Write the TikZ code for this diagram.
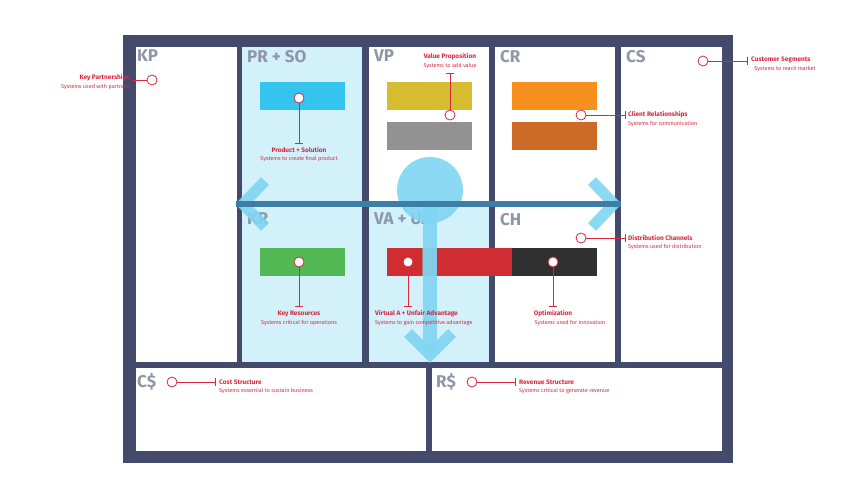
\documentclass[tikz,border=0pt]{standalone}
\usepackage{fontspec}
\setmainfont{Fira Sans}
\definecolor{frame}{HTML}{434A6B}
\definecolor{lb}{HTML}{D2F1FB}
\definecolor{hd}{HTML}{8E96AB}
\definecolor{rd}{HTML}{D8283F}
\definecolor{arw}{HTML}{7FD5F2}
\definecolor{arl}{HTML}{3E7EA6}
\begin{document}
\begin{tikzpicture}[x=1pt,y=-1pt,
 cell/.style={draw=none},
 head/.style={anchor=north west,inner sep=0pt,font=\bfseries\fontsize{17}{17}\selectfont,text=hd},
 dot/.style={circle,draw=rd,fill=white,line width=0.8pt,minimum size=10pt,inner sep=0pt},
 ttl/.style={font=\bfseries\fontsize{6.5}{7}\selectfont,text=rd,inner sep=0pt},
 sub/.style={font=\fontsize{5.5}{6}\selectfont,text=rd,inner sep=0pt},
 ln/.style={draw=rd,line width=0.6pt},
 bar/.style={draw=none,minimum width=85pt,minimum height=28pt,inner sep=0pt}]
\useasboundingbox (0,0) rectangle (858,497);
\fill[frame] (123,35) rectangle (733,463);
% cells
\fill[white] (136,47) rectangle (237,362);
\fill[lb] (242,47) rectangle (362,362);
\fill[white] (369,47) rectangle (489,204);
\fill[lb] (369,204) rectangle (489,362);
\fill[white] (495,47) rectangle (615,204);
\fill[white] (495,204) rectangle (615,362);
\fill[white] (621,47) rectangle (722,362);
\fill[white] (136,368) rectangle (426,451);
\fill[white] (432,368) rectangle (722,451);
% headings
\node[head] (kp) at (137,50) {KP};
\node[head] (pr) at (247,50) {PR + SO};
\node[head] (vp) at (374,50) {VP};
\node[head] (cr) at (500,50) {CR};
\node[head] (cs) at (626,50) {CS};
\node[head] (kr) at (247,213) {KR};
\node[head] (va) at (374,213) {VA + UA};
\node[head] (ch) at (500,213) {CH};
\node[head] (cd) at (137,373) {C\$};
\node[head] (rv) at (436,373) {R\$};
% bars
\node[bar,fill={rgb,255:red,53;green,196;blue,240}] (b1) at (302.5,96) {};
\node[bar,fill={rgb,255:red,214;green,188;blue,48}] (b2) at (429,96) {};
\node[bar,fill={rgb,255:red,146;green,146;blue,146}] (b3) at (429,136) {};
\node[bar,fill={rgb,255:red,247;green,144;blue,30}] (b4) at (554.5,96) {};
\node[bar,fill={rgb,255:red,205;green,106;blue,40}] (b5) at (554.5,136) {};
\node[bar,fill={rgb,255:red,82;green,184;blue,84}] (b6) at (302.5,262) {};
\node[bar,minimum width=125pt,fill={rgb,255:red,208;green,45;blue,50}] (b7) at (449.5,262) {};
\node[bar,minimum width=14pt,fill={rgb,255:red,160;green,130;blue,125}] (b8) at (429,262) {};
\node[bar,fill={rgb,255:red,48;green,48;blue,48}] (b9) at (554.5,262) {};
% arrows
\fill[arw,opacity=0.9] (430,190) circle (33);
\fill[arw,opacity=0.9] (423,200) rectangle (437,352);
\draw[arw,opacity=0.9,line width=11pt,line cap=butt] (408,333) -- (430,355) -- (452,333);
\draw[arw,opacity=0.9,line width=11pt] (265,181) -- (243,204) -- (265,227);
\draw[arw,opacity=0.9,line width=11pt] (592,181) -- (614,204) -- (592,227);
\coordinate (al) at (236,204);
\coordinate (ar) at (621,204);
\draw[arl,line width=6pt] (al) -- (ar);
% annotations
\node[dot] (d1) at (152,80) {};
\node[ttl,anchor=east] (t1) at (130,78) {Key Partnerships};
\node[sub,anchor=north east] (s1) at (130,84) {Systems used with partners};
\draw[ln] (132,80) -- (d1);
\node[dot] (d2) at (703,61) {};
\node[ttl,anchor=west] (t2) at (751,60) {Customer Segments};
\node[sub,anchor=north] (s2) at (785,66) {Systems to reach market};
\draw[ln] (d2) -- (747,61); \draw[ln] (747,57) -- (747,65);
\node[ttl] (t3) at (450,57) {Value Proposition};
\node[sub] (s3) at (450,66) {Systems to add value};
\node[dot] (d3) at (450,115) {};
\draw[ln] (d3) -- (450,73); \draw[ln] (446,73) -- (454,73);
\node[dot] (d4) at (299,98) {};
\node[ttl] (t4) at (299,150) {Product + Solution};
\node[sub] (s4) at (299,159) {Systems to create final product};
\draw[ln] (d4) -- (299,143); \draw[ln] (295,143) -- (303,143);
\node[dot] (d5) at (581,115) {};
\node[ttl,anchor=west] (t5) at (628,115) {Client Relationships};
\node[sub,anchor=west] (s5) at (628,124) {Systems for communication};
\draw[ln] (d5) -- (625,115); \draw[ln] (625,111) -- (625,119);
\node[dot] (d6) at (581,238) {};
\node[ttl,anchor=west] (t6) at (628,238) {Distribution Channels};
\node[sub,anchor=west] (s6) at (628,247) {Systems used for distribution};
\draw[ln] (d6) -- (625,238); \draw[ln] (625,234) -- (625,242);
\node[dot] (d7) at (299,262) {};
\node[ttl] (t7) at (299,314) {Key Resources};
\node[sub] (s7) at (299,323) {Systems critical for operations};
\draw[ln] (d7) -- (299,306); \draw[ln] (295,306) -- (303,306);
\node[dot] (d8) at (408,262) {};
\node[ttl,anchor=west] (t8) at (375,314) {Virtual A + Unfair Advantage};
\node[sub,anchor=west] (s8) at (375,323) {Systems to gain competitive advantage};
\draw[ln] (d8) -- (408,306); \draw[ln] (404,306) -- (412,306);
\node[dot] (d9) at (553,262) {};
\node[ttl] (t9) at (553,314) {Optimization};
\node[sub] (s9) at (570,323) {Systems used for innovation};
\draw[ln] (d9) -- (553,306); \draw[ln] (549,306) -- (557,306);
\node[dot] (d10) at (172,382) {};
\node[ttl,anchor=west] (t10) at (219,382) {Cost Structure};
\node[sub,anchor=west] (s10) at (219,391) {Systems essential to sustain business};
\draw[ln] (d10) -- (215,382); \draw[ln] (215,378) -- (215,386);
\node[dot] (d11) at (472,382) {};
\node[ttl,anchor=west] (t11) at (519,382) {Revenue Structure};
\node[sub,anchor=west] (s11) at (519,391) {Systems critical to generate revenue};
\draw[ln] (d11) -- (515,382); \draw[ln] (515,378) -- (515,386);
\end{tikzpicture}
\end{document}
